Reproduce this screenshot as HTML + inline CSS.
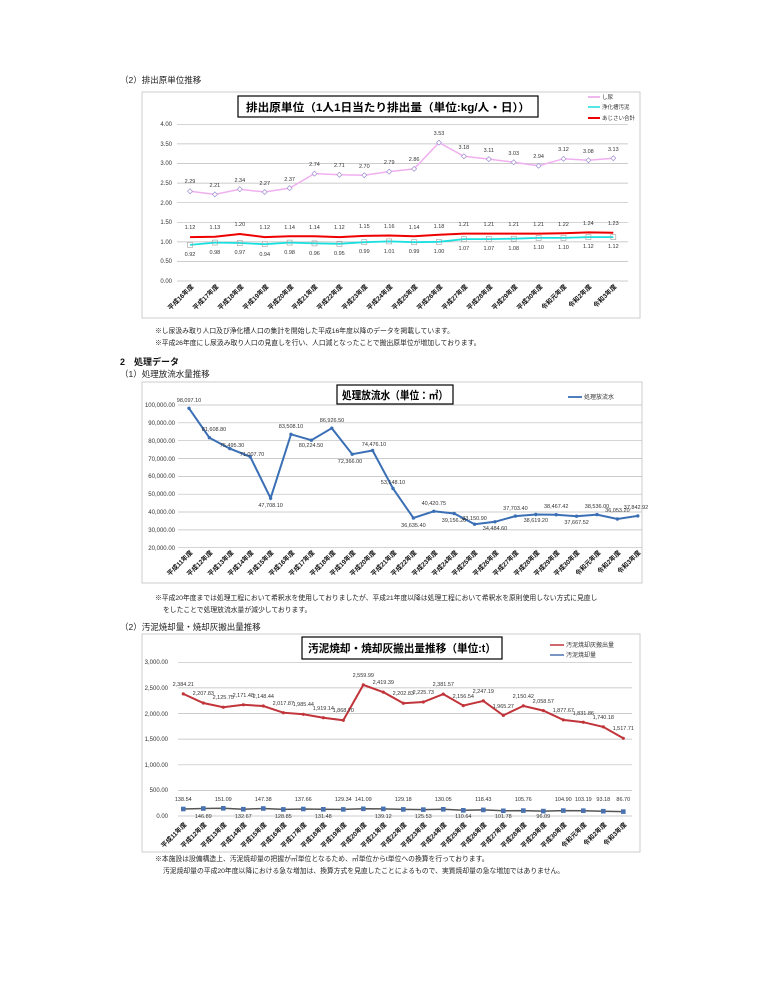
<!DOCTYPE html>
<html><head><meta charset="utf-8"><style>
html,body{margin:0;padding:0;background:#fff;}
svg{display:block;font-family:"Liberation Sans","Noto Sans CJK JP",sans-serif;}
.t{font-size:8.5px;fill:#222}
.a{font-size:6px;fill:#333}
.v{font-size:5.5px;fill:#333;text-anchor:middle}
.c{font-size:6.5px;font-weight:bold;fill:#111;text-anchor:end}
.g{stroke:#bbb;stroke-width:0.7}
</style></head><body>
<svg width="760" height="984" viewBox="0 0 760 984">
<text class="t" x="120" y="83">（2）排出原単位推移</text>
<!-- chart1 -->
<rect x="142" y="92" width="498" height="226" fill="#fff" stroke="#ccc"/>
<g class="g"><line x1="177" x2="628" y1="124.3" y2="124.3"/><line x1="177" x2="628" y1="143.9" y2="143.9"/><line x1="177" x2="628" y1="163.5" y2="163.5"/><line x1="177" x2="628" y1="183.1" y2="183.1"/><line x1="177" x2="628" y1="202.7" y2="202.7"/><line x1="177" x2="628" y1="222.3" y2="222.3"/><line x1="177" x2="628" y1="241.9" y2="241.9"/><line x1="177" x2="628" y1="261.5" y2="261.5"/><line x1="177" x2="628" y1="281" y2="281"/></g>
<g class="a" text-anchor="end"><text x="172" y="126">4.00</text><text x="172" y="146">3.50</text><text x="172" y="165">3.00</text><text x="172" y="185">2.50</text><text x="172" y="205">2.00</text><text x="172" y="224">1.50</text><text x="172" y="244">1.00</text><text x="172" y="263">0.50</text><text x="172" y="283">0.00</text></g>
<rect x="238" y="96" width="300" height="21" fill="#fff" stroke="#000" stroke-width="1.2"/>
<text x="246" y="111" textLength="284" lengthAdjust="spacingAndGlyphs" style="font-size:11px;font-weight:bold">排出原単位（1人1日当たり排出量（単位:kg/人・日））</text>
<g style="font-size:5.5px" fill="#333"><line x1="588" x2="600" y1="97" y2="97" stroke="#e8a0e8" stroke-width="1.5"/><text x="602" y="99">し尿</text>
<line x1="588" x2="600" y1="107" y2="107" stroke="#19e0e0" stroke-width="1.5"/><text x="602" y="109">浄化槽汚泥</text>
<line x1="588" x2="600" y1="118" y2="118" stroke="#e00" stroke-width="2"/><text x="602" y="120">あじさい合計</text></g>
<polyline fill="none" stroke="#f0b0f0" stroke-width="1.5" points="190,191.2 214.9,194.4 239.8,189.3 264.7,192 289.6,188.1 314.5,173.6 339.4,174.8 364.3,175.2 389.2,171.6 414.1,168.9 439,142.6 463.9,156.3 488.8,159.1 513.7,162.2 538.6,165.8 563.5,158.7 588.4,160.3 613.3,158.3"/>
<g fill="#fff" stroke="#a090d0" stroke-width="0.7"><path d="M190,188.7l2.5,2.5l-2.5,2.5l-2.5,-2.5z M214.9,191.9l2.5,2.5l-2.5,2.5l-2.5,-2.5z M239.8,186.8l2.5,2.5l-2.5,2.5l-2.5,-2.5z M264.7,189.5l2.5,2.5l-2.5,2.5l-2.5,-2.5z M289.6,185.6l2.5,2.5l-2.5,2.5l-2.5,-2.5z M314.5,171.1l2.5,2.5l-2.5,2.5l-2.5,-2.5z M339.4,172.3l2.5,2.5l-2.5,2.5l-2.5,-2.5z M364.3,172.7l2.5,2.5l-2.5,2.5l-2.5,-2.5z M389.2,169.1l2.5,2.5l-2.5,2.5l-2.5,-2.5z M414.1,166.4l2.5,2.5l-2.5,2.5l-2.5,-2.5z M439,140.1l2.5,2.5l-2.5,2.5l-2.5,-2.5z M463.9,153.8l2.5,2.5l-2.5,2.5l-2.5,-2.5z M488.8,156.6l2.5,2.5l-2.5,2.5l-2.5,-2.5z M513.7,159.7l2.5,2.5l-2.5,2.5l-2.5,-2.5z M538.6,163.3l2.5,2.5l-2.5,2.5l-2.5,-2.5z M563.5,156.2l2.5,2.5l-2.5,2.5l-2.5,-2.5z M588.4,157.8l2.5,2.5l-2.5,2.5l-2.5,-2.5z M613.3,155.8l2.5,2.5l-2.5,2.5l-2.5,-2.5z"/></g>
<polyline fill="none" stroke="#19e0e0" stroke-width="1.8" points="190,244.9 214.9,242.6 239.8,243 264.7,244.2 289.6,242.6 314.5,243.4 339.4,243.8 364.3,242.2 389.2,241.4 414.1,242.2 439,241.8 463.9,239.1 488.8,239.1 513.7,238.7 538.6,237.9 563.5,237.9 588.4,237.1 613.3,237.1"/>
<polyline fill="none" stroke="#e00" stroke-width="2" points="190,237.1 214.9,236.7 239.8,234 264.7,237.1 289.6,236.3 314.5,236.3 339.4,237.1 364.3,235.9 389.2,235.5 414.1,236.3 439,234.7 463.9,233.6 488.8,233.6 513.7,233.6 538.6,233.6 563.5,233.2 588.4,232.4 613.3,232.8"/>
<g fill="none" stroke="#a0a0a0" stroke-width="0.6"><rect x="187.5" y="242.4" width="5" height="5"/><rect x="212.4" y="240.1" width="5" height="5"/><rect x="237.3" y="240.5" width="5" height="5"/><rect x="262.2" y="241.7" width="5" height="5"/><rect x="287.1" y="240.1" width="5" height="5"/><rect x="312" y="240.9" width="5" height="5"/><rect x="336.9" y="241.3" width="5" height="5"/><rect x="361.8" y="239.7" width="5" height="5"/><rect x="386.7" y="238.9" width="5" height="5"/><rect x="411.6" y="239.7" width="5" height="5"/><rect x="436.5" y="239.3" width="5" height="5"/><rect x="461.4" y="236.6" width="5" height="5"/><rect x="486.3" y="236.6" width="5" height="5"/><rect x="511.2" y="236.2" width="5" height="5"/><rect x="536.1" y="235.4" width="5" height="5"/><rect x="561" y="235.4" width="5" height="5"/><rect x="585.9" y="234.6" width="5" height="5"/><rect x="610.8" y="234.6" width="5" height="5"/></g>
<g class="v"><text x="190" y="183">2.29</text><text x="214.9" y="187">2.21</text><text x="239.8" y="182">2.34</text><text x="264.7" y="185">2.27</text><text x="289.6" y="181">2.37</text><text x="314.5" y="166">2.74</text><text x="339.4" y="167">2.71</text><text x="364.3" y="168">2.70</text><text x="389.2" y="164">2.79</text><text x="414.1" y="161">2.86</text><text x="439" y="135">3.53</text><text x="463.9" y="149">3.18</text><text x="488.8" y="152">3.11</text><text x="513.7" y="155">3.03</text><text x="538.6" y="158">2.94</text><text x="563.5" y="151">3.12</text><text x="588.4" y="153">3.08</text><text x="613.3" y="151">3.13</text>
<text x="190" y="229">1.12</text><text x="214.9" y="229">1.13</text><text x="239.8" y="226">1.20</text><text x="264.7" y="229">1.12</text><text x="289.6" y="229">1.14</text><text x="314.5" y="229">1.14</text><text x="339.4" y="229">1.12</text><text x="364.3" y="228">1.15</text><text x="389.2" y="228">1.16</text><text x="414.1" y="229">1.14</text><text x="439" y="228">1.18</text><text x="463.9" y="226">1.21</text><text x="488.8" y="226">1.21</text><text x="513.7" y="226">1.21</text><text x="538.6" y="226">1.21</text><text x="563.5" y="226">1.22</text><text x="588.4" y="225">1.24</text><text x="613.3" y="225">1.23</text>
<text x="190" y="256">0.92</text><text x="214.9" y="254">0.98</text><text x="239.8" y="254">0.97</text><text x="264.7" y="256">0.94</text><text x="289.6" y="254">0.98</text><text x="314.5" y="255">0.96</text><text x="339.4" y="255">0.95</text><text x="364.3" y="253">0.99</text><text x="389.2" y="253">1.01</text><text x="414.1" y="253">0.99</text><text x="439" y="253">1.00</text><text x="463.9" y="250">1.07</text><text x="488.8" y="250">1.07</text><text x="513.7" y="250">1.08</text><text x="538.6" y="249">1.10</text><text x="563.5" y="249">1.10</text><text x="588.4" y="248">1.12</text><text x="613.3" y="248">1.12</text></g>
<g class="c"><text transform="translate(194,287) rotate(-45)">平成16年度</text><text transform="translate(219,287) rotate(-45)">平成17年度</text><text transform="translate(244,287) rotate(-45)">平成18年度</text><text transform="translate(269,287) rotate(-45)">平成19年度</text><text transform="translate(294,287) rotate(-45)">平成20年度</text><text transform="translate(318,287) rotate(-45)">平成21年度</text><text transform="translate(343,287) rotate(-45)">平成22年度</text><text transform="translate(368,287) rotate(-45)">平成23年度</text><text transform="translate(393,287) rotate(-45)">平成24年度</text><text transform="translate(418,287) rotate(-45)">平成25年度</text><text transform="translate(443,287) rotate(-45)">平成26年度</text><text transform="translate(468,287) rotate(-45)">平成27年度</text><text transform="translate(493,287) rotate(-45)">平成28年度</text><text transform="translate(518,287) rotate(-45)">平成29年度</text><text transform="translate(543,287) rotate(-45)">平成30年度</text><text transform="translate(567,287) rotate(-45)">令和元年度</text><text transform="translate(592,287) rotate(-45)">令和2年度</text><text transform="translate(617,287) rotate(-45)">令和3年度</text></g>
<g style="font-size:6.8px" fill="#222"><text x="155" y="333">※し尿汲み取り人口及び浄化槽人口の集計を開始した平成16年度以降のデータを掲載しています。</text><text x="155" y="345">※平成26年度にし尿汲み取り人口の見直しを行い、人口減となったことで搬出原単位が増加しております。</text></g>
<text x="120" y="365" style="font-size:9px;font-weight:bold" fill="#111">2　処理データ</text>
<text class="t" x="120" y="377">（1）処理放流水量推移</text>
<!-- chart2 -->
<rect x="142" y="382" width="500" height="201" fill="#fff" stroke="#ccc"/>
<g class="g"><line x1="178" x2="642" y1="405" y2="405"/><line x1="178" x2="642" y1="422.8" y2="422.8"/><line x1="178" x2="642" y1="440.7" y2="440.7"/><line x1="178" x2="642" y1="458.5" y2="458.5"/><line x1="178" x2="642" y1="476.4" y2="476.4"/><line x1="178" x2="642" y1="494.2" y2="494.2"/><line x1="178" x2="642" y1="512" y2="512"/><line x1="178" x2="642" y1="529.9" y2="529.9"/><line x1="178" x2="642" y1="547.7" y2="547.7"/></g>
<g class="a" text-anchor="end"><text x="175" y="407">100,000.00</text><text x="175" y="425">90,000.00</text><text x="175" y="443">80,000.00</text><text x="175" y="461">70,000.00</text><text x="175" y="478">60,000.00</text><text x="175" y="496">50,000.00</text><text x="175" y="514">40,000.00</text><text x="175" y="532">30,000.00</text><text x="175" y="550">20,000.00</text></g>
<rect x="337" y="385" width="116" height="19" fill="#fff" stroke="#000" stroke-width="1.2"/>
<text x="342" y="399" textLength="106" lengthAdjust="spacingAndGlyphs" style="font-size:11px;font-weight:bold">処理放流水（単位：㎥）</text>
<line x1="568" x2="582" y1="397" y2="397" stroke="#3a6fb5" stroke-width="1.8"/><text x="584" y="399" style="font-size:6px" fill="#333">処理放流水</text>
<polyline fill="none" stroke="#3a6fb5" stroke-width="2" points="189,408.3 209.4,437.7 229.8,448.6 250.2,456.7 270.6,498.2 291,434.3 311.4,440.2 331.8,428.2 352.2,454.2 372.6,450.5 393,488.5 413.4,518 433.8,511.3 454.2,513.5 474.6,524.2 495,521.8 515.4,516.1 535.8,514.5 556.2,514.7 576.6,516.2 597,514.6 617.4,519 637.8,515.9"/>
<g fill="#3a6fb5"><circle cx="189" cy="408.3" r="1.7"/><circle cx="209.4" cy="437.7" r="1.7"/><circle cx="229.8" cy="448.6" r="1.7"/><circle cx="250.2" cy="456.7" r="1.7"/><circle cx="270.6" cy="498.2" r="1.7"/><circle cx="291" cy="434.3" r="1.7"/><circle cx="311.4" cy="440.2" r="1.7"/><circle cx="331.8" cy="428.2" r="1.7"/><circle cx="352.2" cy="454.2" r="1.7"/><circle cx="372.6" cy="450.5" r="1.7"/><circle cx="393" cy="488.5" r="1.7"/><circle cx="413.4" cy="518" r="1.7"/><circle cx="433.8" cy="511.3" r="1.7"/><circle cx="454.2" cy="513.5" r="1.7"/><circle cx="474.6" cy="524.2" r="1.7"/><circle cx="495" cy="521.8" r="1.7"/><circle cx="515.4" cy="516.1" r="1.7"/><circle cx="535.8" cy="514.5" r="1.7"/><circle cx="556.2" cy="514.7" r="1.7"/><circle cx="576.6" cy="516.2" r="1.7"/><circle cx="597" cy="514.6" r="1.7"/><circle cx="617.4" cy="519" r="1.7"/><circle cx="637.8" cy="515.9" r="1.7"/></g>
<g class="v"><text x="189" y="402">98,097.10</text><text x="214" y="431">81,608.80</text><text x="232" y="447">75,495.30</text><text x="252" y="456">71,007.70</text><text x="270.6" y="507">47,708.10</text><text x="291" y="428">83,508.10</text><text x="311" y="447">80,224.50</text><text x="332" y="422">86,926.50</text><text x="350" y="463">72,366.00</text><text x="374" y="446">74,476.10</text><text x="393" y="484">53,148.10</text><text x="413.4" y="527">36,635.40</text><text x="433.8" y="505">40,420.75</text><text x="454" y="522">39,156.20</text><text x="474.6" y="520">33,150.90</text><text x="495" y="530">34,484.60</text><text x="515.4" y="510">37,703.40</text><text x="535.8" y="522">38,619.20</text><text x="556.2" y="508">38,467.42</text><text x="576.6" y="524">37,667.52</text><text x="597" y="508">38,536.00</text><text x="617.4" y="512">36,053.20</text><text x="636" y="509">37,842.92</text></g>
<g class="c"><text transform="translate(193,553) rotate(-45)">平成11年度</text><text transform="translate(213,553) rotate(-45)">平成12年度</text><text transform="translate(234,553) rotate(-45)">平成13年度</text><text transform="translate(254,553) rotate(-45)">平成14年度</text><text transform="translate(274,553) rotate(-45)">平成15年度</text><text transform="translate(295,553) rotate(-45)">平成16年度</text><text transform="translate(315,553) rotate(-45)">平成17年度</text><text transform="translate(336,553) rotate(-45)">平成18年度</text><text transform="translate(356,553) rotate(-45)">平成19年度</text><text transform="translate(376,553) rotate(-45)">平成20年度</text><text transform="translate(397,553) rotate(-45)">平成21年度</text><text transform="translate(417,553) rotate(-45)">平成22年度</text><text transform="translate(438,553) rotate(-45)">平成23年度</text><text transform="translate(458,553) rotate(-45)">平成24年度</text><text transform="translate(478,553) rotate(-45)">平成25年度</text><text transform="translate(499,553) rotate(-45)">平成26年度</text><text transform="translate(519,553) rotate(-45)">平成27年度</text><text transform="translate(540,553) rotate(-45)">平成28年度</text><text transform="translate(560,553) rotate(-45)">平成29年度</text><text transform="translate(580,553) rotate(-45)">平成30年度</text><text transform="translate(601,553) rotate(-45)">令和元年度</text><text transform="translate(621,553) rotate(-45)">令和2年度</text><text transform="translate(641,553) rotate(-45)">令和3年度</text></g>
<g style="font-size:6.8px" fill="#222"><text x="155" y="600">※平成20年度までは処理工程において希釈水を使用しておりましたが、平成21年度以降は処理工程において希釈水を原則使用しない方式に見直し</text><text x="163" y="612">をしたことで処理放流水量が減少しております。</text></g>
<text class="t" x="120" y="630">（2）汚泥焼却量・焼却灰搬出量推移</text>
<!-- chart3 -->
<rect x="142" y="634" width="498" height="218" fill="#fff" stroke="#ccc"/>
<g class="g"><line x1="178" x2="632" y1="662.3" y2="662.3"/><line x1="178" x2="632" y1="687.9" y2="687.9"/><line x1="178" x2="632" y1="713.5" y2="713.5"/><line x1="178" x2="632" y1="739.1" y2="739.1"/><line x1="178" x2="632" y1="764.8" y2="764.8"/><line x1="178" x2="632" y1="790.4" y2="790.4"/><line x1="178" x2="632" y1="816" y2="816"/></g>
<g class="a" text-anchor="end"><text x="168" y="664">3,000.00</text><text x="168" y="690">2,500.00</text><text x="168" y="716">2,000.00</text><text x="168" y="741">1,500.00</text><text x="168" y="767">1,000.00</text><text x="168" y="792">500.00</text><text x="168" y="818">0.00</text></g>
<rect x="302" y="637" width="200" height="22" fill="#fff" stroke="#000" stroke-width="1.2"/>
<text x="308" y="652" textLength="188" lengthAdjust="spacingAndGlyphs" style="font-size:11px;font-weight:bold">汚泥焼却・焼却灰搬出量推移（単位:t）</text>
<g style="font-size:6px" fill="#333"><line x1="550" x2="564" y1="645" y2="645" stroke="#c0343a" stroke-width="1.5"/><text x="566" y="647">汚泥焼却灰搬出量</text><line x1="550" x2="564" y1="655" y2="655" stroke="#4a72b0" stroke-width="1.5"/><text x="566" y="657">汚泥焼却量</text></g>
<polyline fill="none" stroke="#c0343a" stroke-width="2" points="183.3,693.9 203.3,703 223.3,707.2 243.3,704.8 263.3,706 283.3,712.7 303.3,714.3 323.3,717.7 343.3,720.3 363.3,684.9 383.3,692.1 403.3,703.2 423.3,702 443.3,694.1 463.3,705.6 483.3,700.9 503.3,715.4 523.3,705.9 543.3,710.6 563.3,719.9 583.3,722.2 603.3,726.9 623.3,738.3"/>
<g fill="#c0343a"><circle cx="183.3" cy="693.9" r="1.6"/><circle cx="203.3" cy="703" r="1.6"/><circle cx="223.3" cy="707.2" r="1.6"/><circle cx="243.3" cy="704.8" r="1.6"/><circle cx="263.3" cy="706" r="1.6"/><circle cx="283.3" cy="712.7" r="1.6"/><circle cx="303.3" cy="714.3" r="1.6"/><circle cx="323.3" cy="717.7" r="1.6"/><circle cx="343.3" cy="720.3" r="1.6"/><circle cx="363.3" cy="684.9" r="1.6"/><circle cx="383.3" cy="692.1" r="1.6"/><circle cx="403.3" cy="703.2" r="1.6"/><circle cx="423.3" cy="702" r="1.6"/><circle cx="443.3" cy="694.1" r="1.6"/><circle cx="463.3" cy="705.6" r="1.6"/><circle cx="483.3" cy="700.9" r="1.6"/><circle cx="503.3" cy="715.4" r="1.6"/><circle cx="523.3" cy="705.9" r="1.6"/><circle cx="543.3" cy="710.6" r="1.6"/><circle cx="563.3" cy="719.9" r="1.6"/><circle cx="583.3" cy="722.2" r="1.6"/><circle cx="603.3" cy="726.9" r="1.6"/><circle cx="623.3" cy="738.3" r="1.6"/></g>
<polyline fill="none" stroke="#555" stroke-width="1.5" points="183.3,809 203.3,808.5 223.3,808.3 243.3,809.2 263.3,808.5 283.3,809.4 303.3,809 323.3,809.3 343.3,809.4 363.3,808.8 383.3,808.9 403.3,809.4 423.3,809.6 443.3,809.3 463.3,810.3 483.3,809.9 503.3,810.8 523.3,810.6 543.3,811.1 563.3,810.6 583.3,810.7 603.3,811.2 623.3,811.6"/>
<g fill="#4a72b0"><rect x="181" y="806.7" width="4.6" height="4.6"/><rect x="201" y="806.2" width="4.6" height="4.6"/><rect x="221" y="806" width="4.6" height="4.6"/><rect x="241" y="806.9" width="4.6" height="4.6"/><rect x="261" y="806.2" width="4.6" height="4.6"/><rect x="281" y="807.1" width="4.6" height="4.6"/><rect x="301" y="806.7" width="4.6" height="4.6"/><rect x="321" y="807" width="4.6" height="4.6"/><rect x="341" y="807.1" width="4.6" height="4.6"/><rect x="361" y="806.5" width="4.6" height="4.6"/><rect x="381" y="806.6" width="4.6" height="4.6"/><rect x="401" y="807.1" width="4.6" height="4.6"/><rect x="421" y="807.3" width="4.6" height="4.6"/><rect x="441" y="807" width="4.6" height="4.6"/><rect x="461" y="808" width="4.6" height="4.6"/><rect x="481" y="807.6" width="4.6" height="4.6"/><rect x="501" y="808.5" width="4.6" height="4.6"/><rect x="521" y="808.3" width="4.6" height="4.6"/><rect x="541" y="808.8" width="4.6" height="4.6"/><rect x="561" y="808.3" width="4.6" height="4.6"/><rect x="581" y="808.4" width="4.6" height="4.6"/><rect x="601" y="808.9" width="4.6" height="4.6"/><rect x="621" y="809.3" width="4.6" height="4.6"/></g>
<g class="v"><text x="183.3" y="686">2,384.21</text><text x="203.3" y="695">2,207.83</text><text x="223.3" y="699">2,125.75</text><text x="243.3" y="697">2,171.48</text><text x="263.3" y="698">2,148.44</text><text x="283.3" y="705">2,017.87</text><text x="303.3" y="706">1,985.44</text><text x="323.3" y="710">1,919.14</text><text x="343.3" y="712">1,868.70</text><text x="363.3" y="677">2,559.99</text><text x="383.3" y="684">2,419.39</text><text x="403.3" y="695">2,202.83</text><text x="423.3" y="694">2,225.73</text><text x="443.3" y="686">2,381.57</text><text x="463.3" y="698">2,156.54</text><text x="483.3" y="693">2,247.19</text><text x="503.3" y="708">1,965.27</text><text x="523.3" y="698">2,150.42</text><text x="543.3" y="703">2,058.57</text><text x="563.3" y="712">1,877.67</text><text x="583.3" y="715">1,831.86</text><text x="603.3" y="719">1,740.18</text><text x="623.3" y="730">1,517.71</text>
<text x="183.3" y="801">138.54</text><text x="203.3" y="818">146.89</text><text x="223.3" y="801">151.09</text><text x="243.3" y="818">132.67</text><text x="263.3" y="801">147.38</text><text x="283.3" y="818">128.85</text><text x="303.3" y="801">137.66</text><text x="323.3" y="818">131.48</text><text x="343.3" y="801">129.34</text><text x="363.3" y="801">141.09</text><text x="383.3" y="818">139.12</text><text x="403.3" y="801">129.18</text><text x="423.3" y="818">125.53</text><text x="443.3" y="801">130.05</text><text x="463.3" y="818">110.64</text><text x="483.3" y="801">118.43</text><text x="503.3" y="818">101.78</text><text x="523.3" y="801">105.76</text><text x="543.3" y="818">96.09</text><text x="563.3" y="801">104.90</text><text x="583.3" y="801">103.19</text><text x="603.3" y="801">93.18</text><text x="623.3" y="801">86.70</text></g>
<g class="c"><text transform="translate(187,825) rotate(-45)">平成11年度</text><text transform="translate(207,825) rotate(-45)">平成12年度</text><text transform="translate(227,825) rotate(-45)">平成13年度</text><text transform="translate(247,825) rotate(-45)">平成14年度</text><text transform="translate(267,825) rotate(-45)">平成15年度</text><text transform="translate(287,825) rotate(-45)">平成16年度</text><text transform="translate(307,825) rotate(-45)">平成17年度</text><text transform="translate(327,825) rotate(-45)">平成18年度</text><text transform="translate(347,825) rotate(-45)">平成19年度</text><text transform="translate(367,825) rotate(-45)">平成20年度</text><text transform="translate(387,825) rotate(-45)">平成21年度</text><text transform="translate(407,825) rotate(-45)">平成22年度</text><text transform="translate(427,825) rotate(-45)">平成23年度</text><text transform="translate(447,825) rotate(-45)">平成24年度</text><text transform="translate(467,825) rotate(-45)">平成25年度</text><text transform="translate(487,825) rotate(-45)">平成26年度</text><text transform="translate(507,825) rotate(-45)">平成27年度</text><text transform="translate(527,825) rotate(-45)">平成28年度</text><text transform="translate(547,825) rotate(-45)">平成29年度</text><text transform="translate(567,825) rotate(-45)">平成30年度</text><text transform="translate(587,825) rotate(-45)">令和元年度</text><text transform="translate(607,825) rotate(-45)">令和2年度</text><text transform="translate(627,825) rotate(-45)">令和3年度</text></g>
<g style="font-size:6.8px" fill="#222"><text x="155" y="861">※本施設は設備構造上、汚泥焼却量の把握が㎥単位となるため、㎥単位からt単位への換算を行っております。</text><text x="163" y="873">汚泥焼却量の平成20年度以降における急な増加は、換算方式を見直したことによるもので、実質焼却量の急な増加ではありません。</text></g>
</svg>
</body></html>
